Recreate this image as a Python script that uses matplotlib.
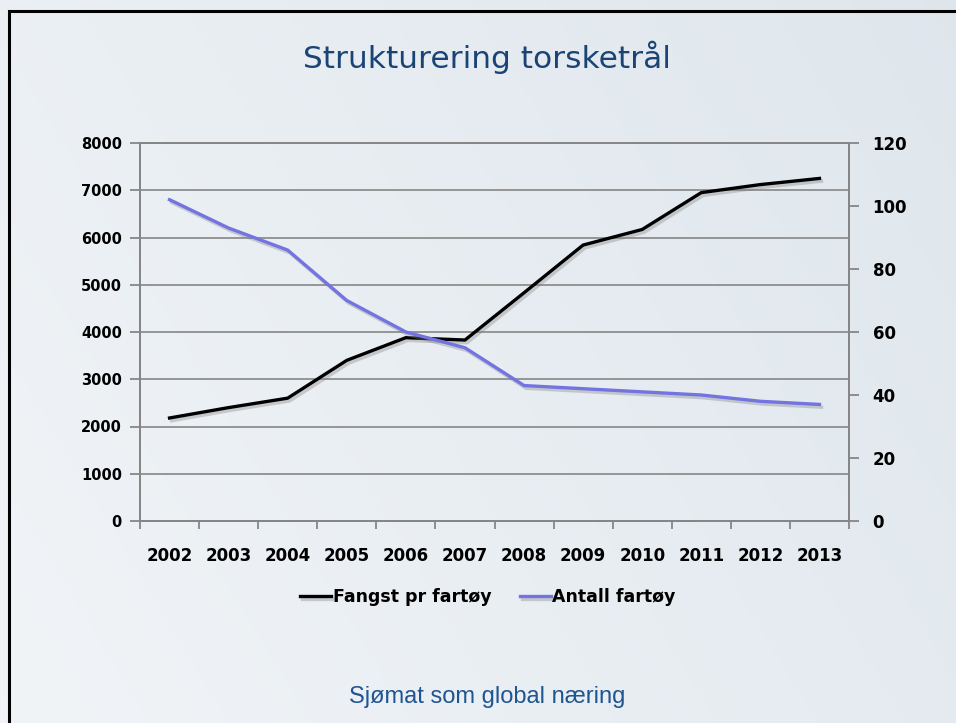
import numpy as np
import matplotlib
matplotlib.use("Agg")
import matplotlib.pyplot as plt
import matplotlib.patheffects as pe
from matplotlib.patches import Rectangle

# =========================
# Data
# =========================
years = ["2002", "2003", "2004", "2005", "2006", "2007",
         "2008", "2009", "2010", "2011", "2012", "2013"]
fangst = [2180, 2400, 2600, 3400, 3880, 3830, 4830, 5840, 6170, 6950, 7120, 7250]
antall = [102, 93, 86, 70, 60, 55, 43, 42, 41, 40, 38, 37]

left_ticks = [0, 1000, 2000, 3000, 4000, 5000, 6000, 7000, 8000]
right_ticks = [0, 20, 40, 60, 80, 100, 120]

BLUE = "#7373E2"
GRID = "#868686"

# =========================
# Figure + slide background
# =========================
fig = plt.figure(figsize=(9.56, 7.23), dpi=100)

bg = fig.add_axes([0, 0, 1, 1], zorder=-10)
gx = np.linspace(0, 1, 200)
gy = np.linspace(0, 1, 150)
GX, GY = np.meshgrid(gx, gy)
t = 0.55 * GX + 0.25 * (1 - GY)
c0 = np.array([0.945, 0.957, 0.969])
c1 = np.array([0.855, 0.890, 0.918])
img = c0[None, None, :] * (1 - t[..., None]) + c1[None, None, :] * t[..., None]
bg.imshow(img, extent=[0, 1, 0, 1], aspect="auto", origin="upper")
bg.set_xlim(0, 1)
bg.set_ylim(0, 1)
bg.axis("off")
# slide frame (only top and left edge visible in the crop)
bg.add_patch(Rectangle((8.5 / 956, -0.1), 1.2, 1 - 11 / 723 + 0.1,
                       fill=False, edgecolor="black", linewidth=2.2,
                       transform=bg.transAxes))

# =========================
# Chart
# =========================
ax = fig.add_axes([140 / 956, 1 - 521 / 723, 709 / 956, 378 / 723])
ax.patch.set_alpha(0)
x = np.arange(len(years))

shadow = [pe.SimpleLineShadow(offset=(1.5, -2), shadow_color="#808080", alpha=0.35),
          pe.Normal()]

ax.plot(x, fangst, color="black", linewidth=2.4, solid_joinstyle="round",
        path_effects=shadow, label="Fangst pr fartøy", zorder=3)
ax.set_xlim(-0.5, len(years) - 0.5)
ax.set_ylim(0, 8000)
ax.set_yticks(left_ticks)
ax.grid(axis="y", color=GRID, linewidth=1.2)
ax.set_axisbelow(True)

ax2 = ax.twinx()
ax2.plot(x, antall, color=BLUE, linewidth=2.4, solid_joinstyle="round",
         path_effects=shadow, label="Antall fartøy", zorder=3)
ax2.set_ylim(0, 120)
ax2.set_yticks(right_ticks)

# category boundaries as major ticks, labels at centers
ax.set_xticks(np.arange(-0.5, len(years), 1.0))
ax.set_xticklabels([])
ax.set_xticks(x, minor=True)
ax.set_xticklabels(years, minor=True, fontsize=12, fontweight="bold")
ax.tick_params(axis="x", which="minor", length=0, pad=19)
ax.tick_params(axis="x", which="major", length=6, width=1.3, color=GRID)
ax.tick_params(axis="y", length=7, width=1.3, color=GRID, pad=6,
               labelsize=10.5)
ax2.tick_params(axis="y", length=7, width=1.3, color=GRID, pad=10,
                labelsize=12)
for lab in ax.get_yticklabels() + ax2.get_yticklabels():
    lab.set_fontweight("bold")

for a in (ax, ax2):
    for side in ("left", "right", "bottom", "top"):
        a.spines[side].set_color(GRID)
        a.spines[side].set_linewidth(1.4)
    a.spines["top"].set_linewidth(1.2)

# legend below the chart
h1, l1 = ax.get_legend_handles_labels()
h2, l2 = ax2.get_legend_handles_labels()
fig.legend(h1 + h2, l1 + l2, loc="center", bbox_to_anchor=(488 / 956, 1 - 597 / 723),
           ncol=2, frameon=False, handlelength=1.8, handletextpad=0.1,
           columnspacing=1.6, prop={"size": 12.5, "weight": "bold"})

# =========================
# Slide texts
# =========================
fig.text(487 / 956, 1 - 57 / 723, "Strukturering torsketrål",
         ha="center", va="center", fontsize=22.5, color="#1a4475")
fig.text(487 / 956, 1 - 697 / 723, "Sjømat som global næring",
         ha="center", va="center", fontsize=17, color="#1f5592",
         family="Liberation Sans")

plt.savefig("out.png", dpi=100)
plt.close()
